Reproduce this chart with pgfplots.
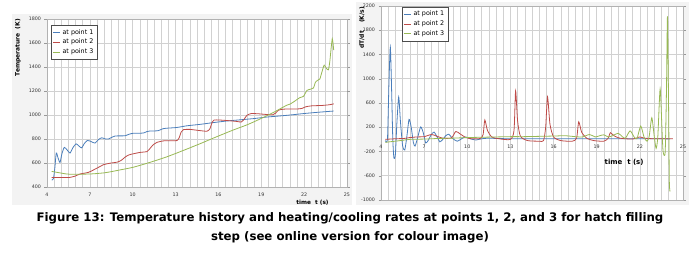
\documentclass[border=0pt]{standalone}
\usepackage{fontspec}
\setmainfont{DejaVu Sans}
\usepackage{pgfplots}
\pgfplotsset{compat=1.18}
\definecolor{cblue}{HTML}{4A7EBB}
\definecolor{cred}{HTML}{BE4B48}
\definecolor{cgreen}{HTML}{98B954}
\definecolor{panel}{HTML}{F3F3F3}
\pgfplotsset{
  common/.style={
    scale only axis,
    xmin=4, xmax=25,
    xtick={4,7,10,13,16,19,22,25},
    minor x tick num=5,
    grid=both,
    major grid style={draw=black!18, line width=0.5pt},
    minor grid style={draw=black!18, line width=0.5pt},
    axis line style={draw=black!30},
    axis background/.style={fill=white},
    tick label style={font=\fontsize{4.8}{5}\selectfont, text=black!80},
    /pgf/number format/assume math mode=true,
    /pgf/number format/1000 sep={},
    xtick style={draw=none},
    minor tick length=0pt,
    ytick style={draw=black!40},
    major tick length=2.5bp,
    tick align=outside,
    every axis plot/.append style={line width=0.8pt, smooth, tension=0.4, no markers},
    legend cell align=left,
    legend style={font=\fontsize{6.4}{7.5}\selectfont, draw=black!70, fill=white,
      inner sep=2bp, row sep=-0.5bp},
    legend image code/.code={\draw[##1, line width=0.8pt] (0bp,0bp) -- (7bp,0bp);},
  }
}
\begin{document}
\begin{tikzpicture}
\useasboundingbox (0,0) rectangle (699bp,260bp);
\fill[panel] (12bp,55bp) rectangle (352bp,246bp);
\fill[panel] (356bp,55bp) rectangle (689bp,258bp);
% ---------------- Left chart ----------------
\begin{axis}[common,
  at={(47bp,73bp)}, anchor=south west,
  width=300bp, height=168bp,
  ymin=400, ymax=1800, ytick={400,600,...,1800},
  extra y ticks={1200}, extra y tick labels={},
  extra y tick style={grid style={draw=black!55, line width=0.6pt}},
  xlabel={\textbf{time\ \ t (s)}},
  xlabel style={font=\fontsize{5.8}{7}\selectfont, at={(rel axis cs:0.885,-0.092)}, anchor=center},
  ylabel={\textbf{Temperature\ \ (K)}},
  ylabel style={font=\fontsize{6}{7}\selectfont, at={(rel axis cs:-0.097,0.83)}, anchor=center, rotate=0},
  legend style={at={(rel axis cs:0.012,0.964)}, anchor=north west},
]
\addplot[cblue] coordinates {(4.33,458)(4.45,470)(4.55,560)(4.65,683)(4.78,640)(4.91,605)(5.05,680)(5.21,730)(5.4,710)(5.61,683)(5.8,725)(6.03,760)(6.25,740)(6.43,726)(6.6,760)(6.83,788)(7.1,778)(7.36,766)(7.6,795)(7.83,810)(8.1,800)(8.3,800)(8.55,815)(8.77,825)(9.1,826)(9.47,827)(9.75,840)(10.05,848)(10.4,848)(10.75,850)(11.0,862)(11.22,867)(11.5,867)(11.8,870)(12.1,885)(12.39,890)(13.09,896)(13.79,910)(14.72,922)(15.66,937)(16.59,950)(17.53,960)(18.46,970)(19.4,983)(20.1,990)(21.03,1000)(21.97,1012)(22.9,1022)(24.07,1033)};
\addlegendentry{at point 1}
\addplot[cred] coordinates {(4.33,480)(5.0,479)(5.6,480)(6.0,492)(6.3,508)(6.9,522)(7.3,545)(7.7,570)(7.95,586)(8.4,598)(8.95,608)(9.2,622)(9.5,652)(9.75,668)(10.05,677)(10.5,688)(11.0,695)(11.15,712)(11.4,748)(11.7,772)(12.2,785)(12.8,786)(13.1,787)(13.25,810)(13.4,860)(13.55,878)(14.0,880)(14.7,870)(15.2,865)(15.4,885)(15.55,935)(15.7,958)(16.1,958)(16.8,952)(17.3,946)(17.6,942)(17.8,965)(18.0,998)(18.3,1012)(18.8,1010)(19.4,1004)(19.8,1002)(20.0,1015)(20.2,1040)(20.6,1049)(21.5,1050)(21.85,1055)(22.1,1068)(22.5,1076)(23.3,1080)(23.8,1086)(24.07,1093)};
\addlegendentry{at point 2}
\addplot[cgreen] coordinates {(4.33,530)(4.8,520)(5.4,508)(6.0,506)(6.6,507)(7.25,510)(8.0,518)(8.5,528)(9.1,542)(10.05,565)(11.2,605)(12.4,652)(13.55,705)(14.7,760)(15.9,820)(17.06,876)(18.0,918)(18.9,966)(19.86,1022)(20.57,1068)(20.8,1082)(21.0,1090)(21.3,1112)(21.7,1145)(21.95,1155)(22.2,1205)(22.45,1215)(22.65,1225)(22.8,1275)(23.0,1293)(23.1,1300)(23.25,1360)(23.4,1415)(23.55,1390)(23.7,1376)(23.8,1450)(23.9,1570)(23.97,1635)(24.02,1600)(24.07,1540)};
\addlegendentry{at point 3}
\end{axis}
% ---------------- Right chart ----------------
\begin{axis}[common,
  at={(381bp,60bp)}, anchor=south west,
  width=302bp, height=194bp,
  ymin=-1000, ymax=2200, ytick={-1000,-600,...,2200},
  extra y ticks={600}, extra y tick labels={},
  extra y tick style={grid style={draw=black!55, line width=0.6pt}},
  x tick label style={yshift=60.6bp},
  xlabel={\textbf{time\ \ t (s)}},
  xlabel style={font=\fontsize{7}{8}\selectfont, at={(rel axis cs:0.805,0.196)}, anchor=center},
  ylabel={\textbf{dT/dt\quad\ (K/s)}},
  ylabel style={font=\fontsize{6}{7}\selectfont, at={(rel axis cs:-0.063,0.887)}, anchor=center},
  legend style={at={(rel axis cs:0.068,0.996)}, anchor=north west},
]
\addplot[cblue] coordinates {(4.3,-20)(4.45,10)(4.55,900)(4.65,1520)(4.75,700)(4.82,0)(4.9,-310)(5.0,-250)(5.1,250)(5.23,700)(5.35,300)(5.5,-100)(5.65,-175)(5.8,50)(5.95,330)(6.1,200)(6.25,-50)(6.37,-110)(6.55,30)(6.76,205)(6.95,100)(7.11,-60)(7.3,-10)(7.5,80)(7.69,120)(7.9,40)(8.09,-40)(8.3,0)(8.5,60)(8.72,85)(8.95,20)(9.3,-30)(9.6,10)(9.9,40)(10.2,10)(10.6,-10)(11,10)(11.5,20)(12,15)(13,10)(14,10)(15,10)(16,10)(17,10)(18,10)(19,10)(20,10)(21,10)(22,10)(23,10)(24.1,8)};
\addlegendentry{at point 1}
\addplot[cred] coordinates {(4.3,0)(5,10)(5.6,15)(6.0,30)(6.5,40)(7.0,45)(7.5,80)(7.8,60)(8.3,20)(8.9,25)(9.2,130)(9.5,90)(9.9,30)(10.3,10)(10.9,15)(11.1,80)(11.22,320)(11.4,150)(11.7,40)(12.2,10)(13.0,0)(13.25,150)(13.36,800)(13.5,300)(13.7,50)(14.2,-20)(15.0,-30)(15.3,-20)(15.45,200)(15.58,700)(15.75,250)(16.0,40)(16.5,-20)(17.3,-30)(17.6,20)(17.75,290)(17.95,120)(18.3,20)(18.8,-20)(19.5,-30)(19.8,20)(19.95,110)(20.2,60)(20.6,20)(21.5,5)(22,40)(22.3,20)(23,10)(24.3,10)};
\addlegendentry{at point 2}
\addplot[cgreen] coordinates {(4.3,-50)(4.6,-40)(5,-30)(5.5,-15)(6,0)(7,5)(8,15)(9,20)(10,30)(11,35)(12,40)(13,45)(14,45)(15,50)(16,55)(16.8,60)(17.5,45)(18.0,40)(18.5,80)(18.9,40)(19.2,60)(19.5,75)(19.8,40)(20.1,60)(20.5,100)(20.8,40)(21.0,20)(21.32,140)(21.6,40)(21.8,10)(22.06,220)(22.3,30)(22.5,-30)(22.65,50)(22.83,357)(23.0,50)(23.13,-150)(23.25,50)(23.41,832)(23.55,100)(23.62,-210)(23.76,-210)(23.85,800)(23.92,2030)(24.0,500)(24.05,-700)(24.1,-860)};
\addlegendentry{at point 3}
\end{axis}
% ---------------- Caption ----------------
\node[font=\bfseries\fontsize{11.8}{19.5}\selectfont, align=center, anchor=center]
  at (350bp,32bp) {Figure 13: Temperature history and heating/cooling rates at points 1, 2, and 3 for hatch filling\\step (see online version for colour image)};
\end{tikzpicture}
\end{document}
